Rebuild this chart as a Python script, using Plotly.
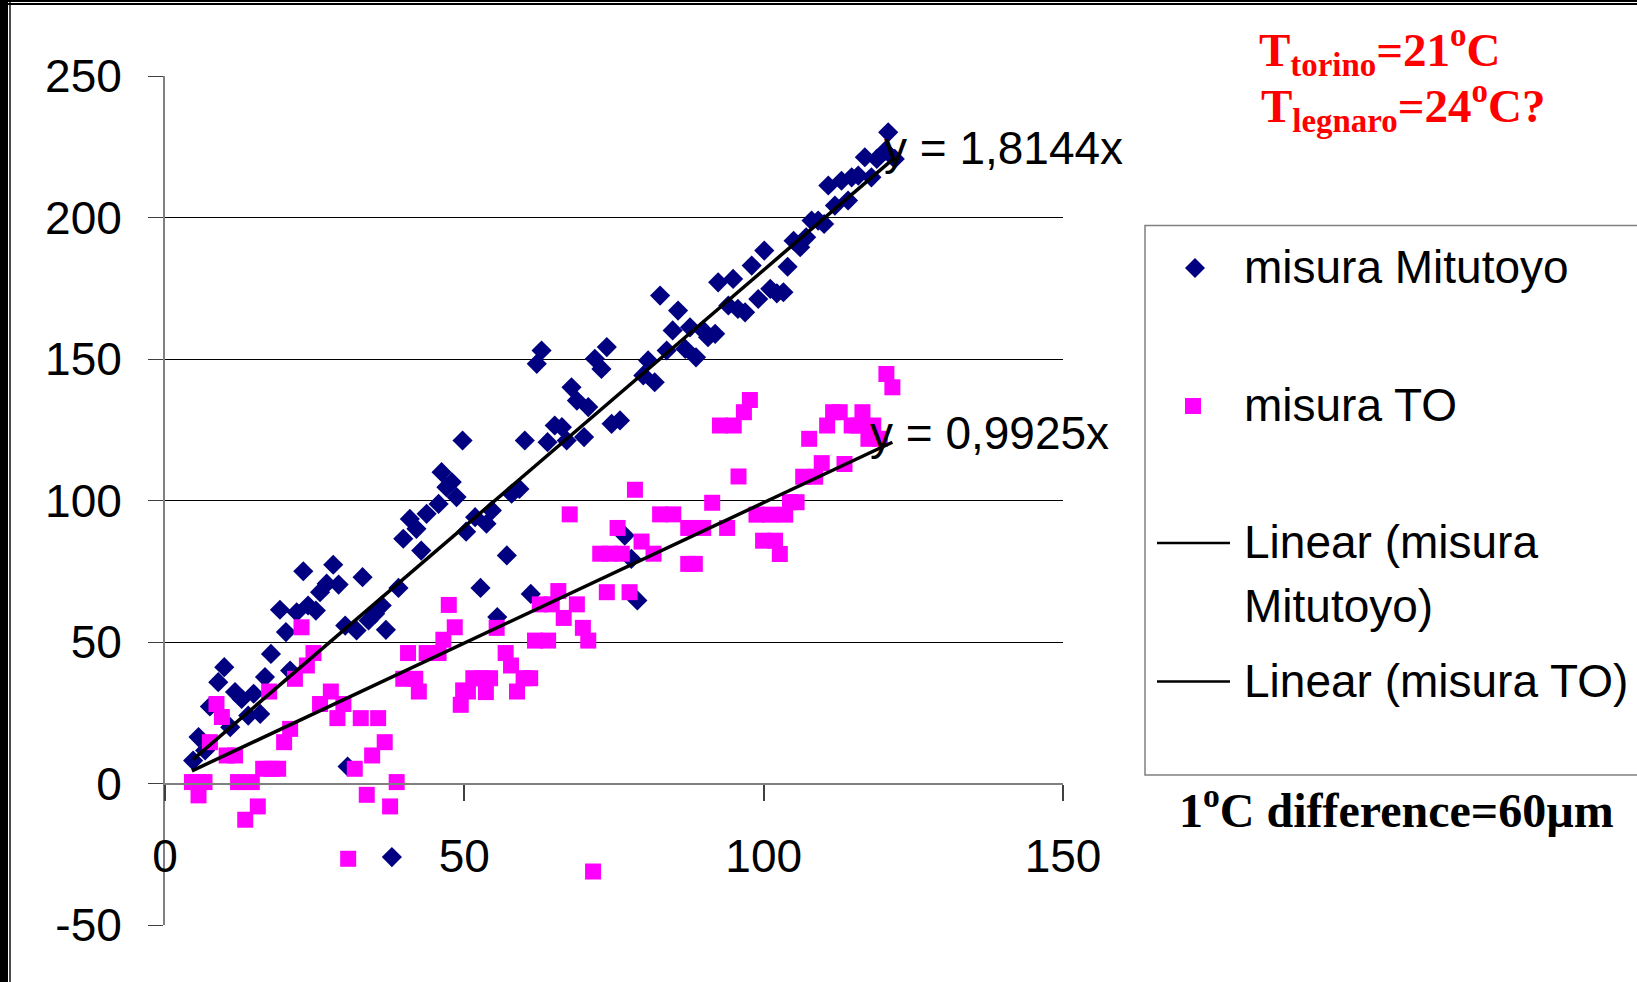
import plotly.graph_objects as go

# ---------------- data ----------------
mitutoyo_x = [4.7, 5.6, 6.7, 7.5, 8.9, 9.9, 10.9, 11.7, 12.8, 13.9, 14.8, 15.9, 16.7, 17.7, 19.2,
              20.2, 20.9, 22.0, 23.1, 23.9, 25.2, 25.9, 27.0, 28.1, 29.0, 30.1, 30.5, 32.0, 33.0,
              34.0, 35.1, 36.2, 36.9, 37.9, 39.0, 39.8, 40.9, 42.0, 42.8, 43.7, 45.7, 46.2, 47.0,
              47.9, 48.7, 49.7, 50.3, 51.8, 52.7, 53.7, 54.6, 55.5, 57.1, 57.9, 59.2, 60.1, 61.1,
              62.1, 62.9, 63.9, 65.1, 66.3, 67.1, 67.9, 68.8, 70.0, 70.7, 71.8, 72.9, 73.8, 74.6,
              76.0, 76.8, 77.9, 78.9, 79.9, 80.7, 81.8, 82.7, 83.8, 84.8, 85.7, 86.9, 87.7, 88.7,
              89.9, 90.7, 91.9, 92.4, 94.1, 94.9, 95.7, 96.9, 98.0, 99.1, 100.1, 101.1, 102.2,
              103.3, 104.0, 105.0, 106.1, 107.1, 108.0, 109.1, 110.1, 110.8, 111.9, 113.0, 114.1,
              114.7, 115.8, 116.9, 118.0, 118.9, 120.3, 120.8, 121.9]
mitutoyo_y = [8.1, 16.4, 11.7, 27.2, 35.8, 41.1, 19.9, 32.3, 29.9, 24.0, 31.7, 24.6, 37.6, 45.8, 61.4,
              53.5, 39.9, 60.5, 75.0, 62.9, 61.1, 67.6, 70.6, 77.3, 70.3, 55.8, 6.0, 54.1, 72.9,
              57.6, 60.0, 62.9, 54.3, -26.0, 69.1, 86.5, 93.5, 90.0, 82.3, 95.3, 98.8, 110.0, 104.7,
              106.5, 101.2, 121.2, 89.0, 94.1, 69.1, 91.8, 96.5, 58.8, 80.6, 102.4, 104.1, 121.2, 67.0,
              148.3, 153.0, 120.6, 126.5, 125.9, 121.2, 140.0, 135.3, 122.4, 133.0, 150.1, 146.5, 154.2, 127.1,
              128.3, 87.6, 79.4, 64.7, 144.2, 149.5, 141.8, 172.4, 153.0, 160.1, 167.1, 153.6, 161.2, 150.6,
              160.1, 157.7, 158.9, 177.1, 168.9, 178.3, 167.7, 166.5, 183.0, 171.2, 188.3, 174.8, 173.2,
              173.6, 182.6, 191.8, 189.5, 193.0, 198.9, 198.9, 197.7, 211.3, 204.2, 213.0, 206.0,
              214.2, 214.8, 221.3, 214.2, 220.7, 223.6, 230.1, 220.7]

to_x = [4.5, 5.5, 5.6, 6.6, 7.5, 8.6, 9.5, 10.3, 11.7, 12.2, 13.4, 14.5, 15.5, 16.4, 17.4, 17.8,
        18.9, 19.9, 20.9, 21.7, 22.8, 23.7, 24.8, 25.9, 27.7, 28.8, 29.8, 30.6, 31.7, 32.7, 33.7,
        34.6, 35.6, 36.7, 37.6, 38.7, 39.8, 40.6, 41.8, 42.4, 43.7, 45.7, 46.5, 47.4, 48.4, 49.4,
        49.8, 50.6, 51.5, 52.9, 53.6, 54.3, 55.4, 56.9, 57.8, 58.8, 59.9, 61.0, 61.8, 62.6, 64.0,
        64.6, 65.7, 66.6, 67.6, 68.8, 69.8, 70.7, 71.5, 72.7, 73.8, 74.3, 75.6, 76.3, 77.6, 78.5,
        79.6, 81.6, 82.7, 84.9, 87.4, 88.5, 87.4, 89.9, 91.4, 92.7, 93.9, 95.0, 95.8, 96.7, 97.7,
        98.8, 99.9, 101.1, 101.9, 102.7, 103.6, 104.4, 105.5, 106.6, 107.6, 108.6, 109.7, 110.6,
        111.6, 112.7, 113.5, 114.7, 115.8, 116.5, 117.5, 118.3, 119.4, 120.5, 121.5]
to_y = [0.5, 0.5, -4.2, 0.5, 14.6, 28.1, 23.5, 9.9, 9.9, 0.5, -12.8, 0.5, -8.1, 5.2, 32.5, 5.2,
        5.2, 14.6, 19.3, 37.0, 55.2, 41.7, 46.1, 28.1, 32.5, 23.1, 28.1, -26.6, 5.2, 23.1, -4.0,
        9.9, 23.1, 14.6, -8.1, 0.5, 37.0, 46.1, 37.0, 32.5, 46.1, 46.1, 50.8, 63.1, 55.2, 27.8,
        32.9, 32.5, 37.2, 37.2, 32.3, 37.2, 55.0, 46.1, 41.7, 32.5, 37.2, 37.2, 50.5, 63.3, 50.5,
        63.3, 68.0, 58.5, 95.1, 63.3, 55.0, 50.5, -31.1, 81.2, 67.6, 81.2, 90.3, 81.2, 67.6, 103.8,
        85.5, 81.2, 95.1, 95.1, 77.6, 77.6, 90.3, 90.3, 99.2, 126.5, 90.3, 126.5, 108.5, 131.2, 135.5,
        95.0, 85.8, 95.0, 85.8, 81.1, 95.0, 99.4, 99.4, 108.4, 121.8, 108.4, 113.2, 126.5,
        131.2, 131.2, 112.9, 126.5, 126.5, 131.2, 121.8, 126.5, 121.8, 144.7, 140.0]

slope_mitutoyo = 1.8144
slope_to = 0.9925
trend_label_mitutoyo = "y = 1,8144x"
trend_label_to = "y = 0,9925x"

x_tick_vals = [0, 50, 100, 150]
x_tick_labels = ["0", "50", "100", "150"]
y_tick_vals = [-50, 0, 50, 100, 150, 200, 250]
y_tick_labels = ["-50", "0", "50", "100", "150", "200", "250"]

legend_labels = ["misura Mitutoyo", "misura TO", "Linear (misura", "Mitutoyo)", "Linear (misura TO)"]

# ---------------- layout helpers ----------------
W, H = 1637, 982
L, R, T, B = 165, 574, 76, 57
PW, PH = W - L - R, H - T - B


def px(x):
    return (x - L) / PW


def py(y):
    return (H - B - y) / PH


SANS = "Liberation Sans, Arial, sans-serif"
SERIF = "Liberation Serif, Times New Roman, serif"
NAVY = "#000080"
MAGENTA = "#FF00FF"

fig = go.Figure()

fig.add_trace(go.Scatter(x=mitutoyo_x, y=mitutoyo_y, mode="markers", name="misura Mitutoyo",
                         marker=dict(symbol="diamond", size=15.5, color=NAVY, line=dict(width=0)),
                         showlegend=False, cliponaxis=False))
fig.add_trace(go.Scatter(x=to_x, y=to_y, mode="markers", name="misura TO",
                         marker=dict(symbol="square", size=16, color=MAGENTA, line=dict(width=0)),
                         showlegend=False, cliponaxis=False))

mx0, mx1 = min(mitutoyo_x), max(mitutoyo_x)
tx0, tx1 = min(to_x), max(to_x)
fig.add_trace(go.Scatter(x=[mx0, mx1], y=[slope_mitutoyo * mx0, slope_mitutoyo * mx1], mode="lines",
                         name="Linear (misura Mitutoyo)", line=dict(color="black", width=3.5),
                         showlegend=False))
fig.add_trace(go.Scatter(x=[tx0, tx1], y=[slope_to * tx0, slope_to * tx1], mode="lines",
                         name="Linear (misura TO)", line=dict(color="black", width=3.5),
                         showlegend=False))

shapes = []
# slide frame (left and top black borders)
shapes.append(dict(type="rect", xref="paper", yref="paper", x0=px(0), x1=px(8), y0=py(H), y1=py(0),
                   fillcolor="black", line=dict(width=0), layer="above"))
shapes.append(dict(type="rect", xref="paper", yref="paper", x0=px(9.3), x1=px(10.7), y0=py(H), y1=py(0),
                   fillcolor="black", line=dict(width=0), layer="above"))
shapes.append(dict(type="rect", xref="paper", yref="paper", x0=px(0), x1=px(W), y0=py(2), y1=py(0),
                   fillcolor="black", line=dict(width=0), layer="above"))
shapes.append(dict(type="rect", xref="paper", yref="paper", x0=px(0), x1=px(W), y0=py(5), y1=py(3),
                   fillcolor="black", line=dict(width=0), layer="above"))
# legend box
shapes.append(dict(type="rect", xref="paper", yref="paper", x0=px(1145), x1=px(1660), y0=py(775), y1=py(225.5),
                   line=dict(color="#808080", width=1.5), fillcolor="rgba(0,0,0,0)"))
# legend diamond
cx, cy, r = 1195, 268, 10
shapes.append(dict(type="path", xref="paper", yref="paper",
                   path=f"M {px(cx - r)} {py(cy)} L {px(cx)} {py(cy - r)} L {px(cx + r)} {py(cy)} L {px(cx)} {py(cy + r)} Z",
                   fillcolor=NAVY, line=dict(width=0)))
# legend square
cx, cy, r = 1193, 406, 8
shapes.append(dict(type="rect", xref="paper", yref="paper", x0=px(cx - r), x1=px(cx + r), y0=py(cy + r), y1=py(cy - r),
                   fillcolor=MAGENTA, line=dict(width=0)))
# legend lines
for ly in (543, 681.5):
    shapes.append(dict(type="line", xref="paper", yref="paper", x0=px(1157), x1=px(1230), y0=py(ly), y1=py(ly),
                       line=dict(color="black", width=2.5)))

annotations = []
for text, ty in zip(legend_labels, [267, 405, 542, 606, 680.5]):
    annotations.append(dict(text=text, xref="paper", yref="paper", x=px(1242), y=py(ty),
                            xanchor="left", yanchor="middle", showarrow=False,
                            font=dict(family=SANS, size=46, color="black")))

annotations.append(dict(text="T<sub>torino</sub>=21<sup>o</sup>C", xref="paper", yref="paper",
                        x=px(1257), y=py(50), xanchor="left", yanchor="middle", showarrow=False,
                        font=dict(family=SERIF, size=47, color="#FF0000", weight="bold")))
annotations.append(dict(text="T<sub>legnaro</sub>=24<sup>o</sup>C?", xref="paper", yref="paper",
                        x=px(1259), y=py(106), xanchor="left", yanchor="middle", showarrow=False,
                        font=dict(family=SERIF, size=47, color="#FF0000", weight="bold")))
annotations.append(dict(text="1<sup>o</sup>C difference=60µm", xref="paper", yref="paper",
                        x=px(1177), y=py(807), xanchor="left", yanchor="middle", showarrow=False,
                        font=dict(family=SERIF, size=48, color="black", weight="bold")))

annotations.append(dict(text=trend_label_mitutoyo, xref="x", yref="y", x=119.8, y=224.5,
                        xanchor="left", yanchor="middle", showarrow=False,
                        font=dict(family=SANS, size=46, color="black")))
annotations.append(dict(text=trend_label_to, xref="x", yref="y", x=117.5, y=124,
                        xanchor="left", yanchor="middle", showarrow=False,
                        font=dict(family=SANS, size=46, color="black")))

fig.update_layout(
    width=W, height=H,
    margin=dict(l=L, r=R, t=T, b=B, pad=0),
    paper_bgcolor="white", plot_bgcolor="white",
    showlegend=False,
    shapes=shapes, annotations=annotations,
    xaxis=dict(range=[0, 150], tickmode="array", tickvals=x_tick_vals, ticktext=x_tick_labels,
               showgrid=False, zeroline=False, showline=True, linecolor="#808080", linewidth=2,
               ticks="outside", ticklen=16, tickwidth=1.5, tickcolor="#404040",
               anchor="free", position=1 / 6, ticklabelstandoff=16,
               tickfont=dict(family=SANS, size=46, color="black")),
    yaxis=dict(range=[-50, 250], tickmode="array", tickvals=y_tick_vals, ticktext=y_tick_labels,
               showgrid=True, gridcolor="#000000", gridwidth=1, zeroline=False,
               showline=True, linecolor="#808080", linewidth=2,
               ticks="outside", ticklen=15, tickwidth=1, tickcolor="#404040",
               ticklabelstandoff=17,
               tickfont=dict(family=SANS, size=46, color="black")),
)

fig.write_html("out.html")
